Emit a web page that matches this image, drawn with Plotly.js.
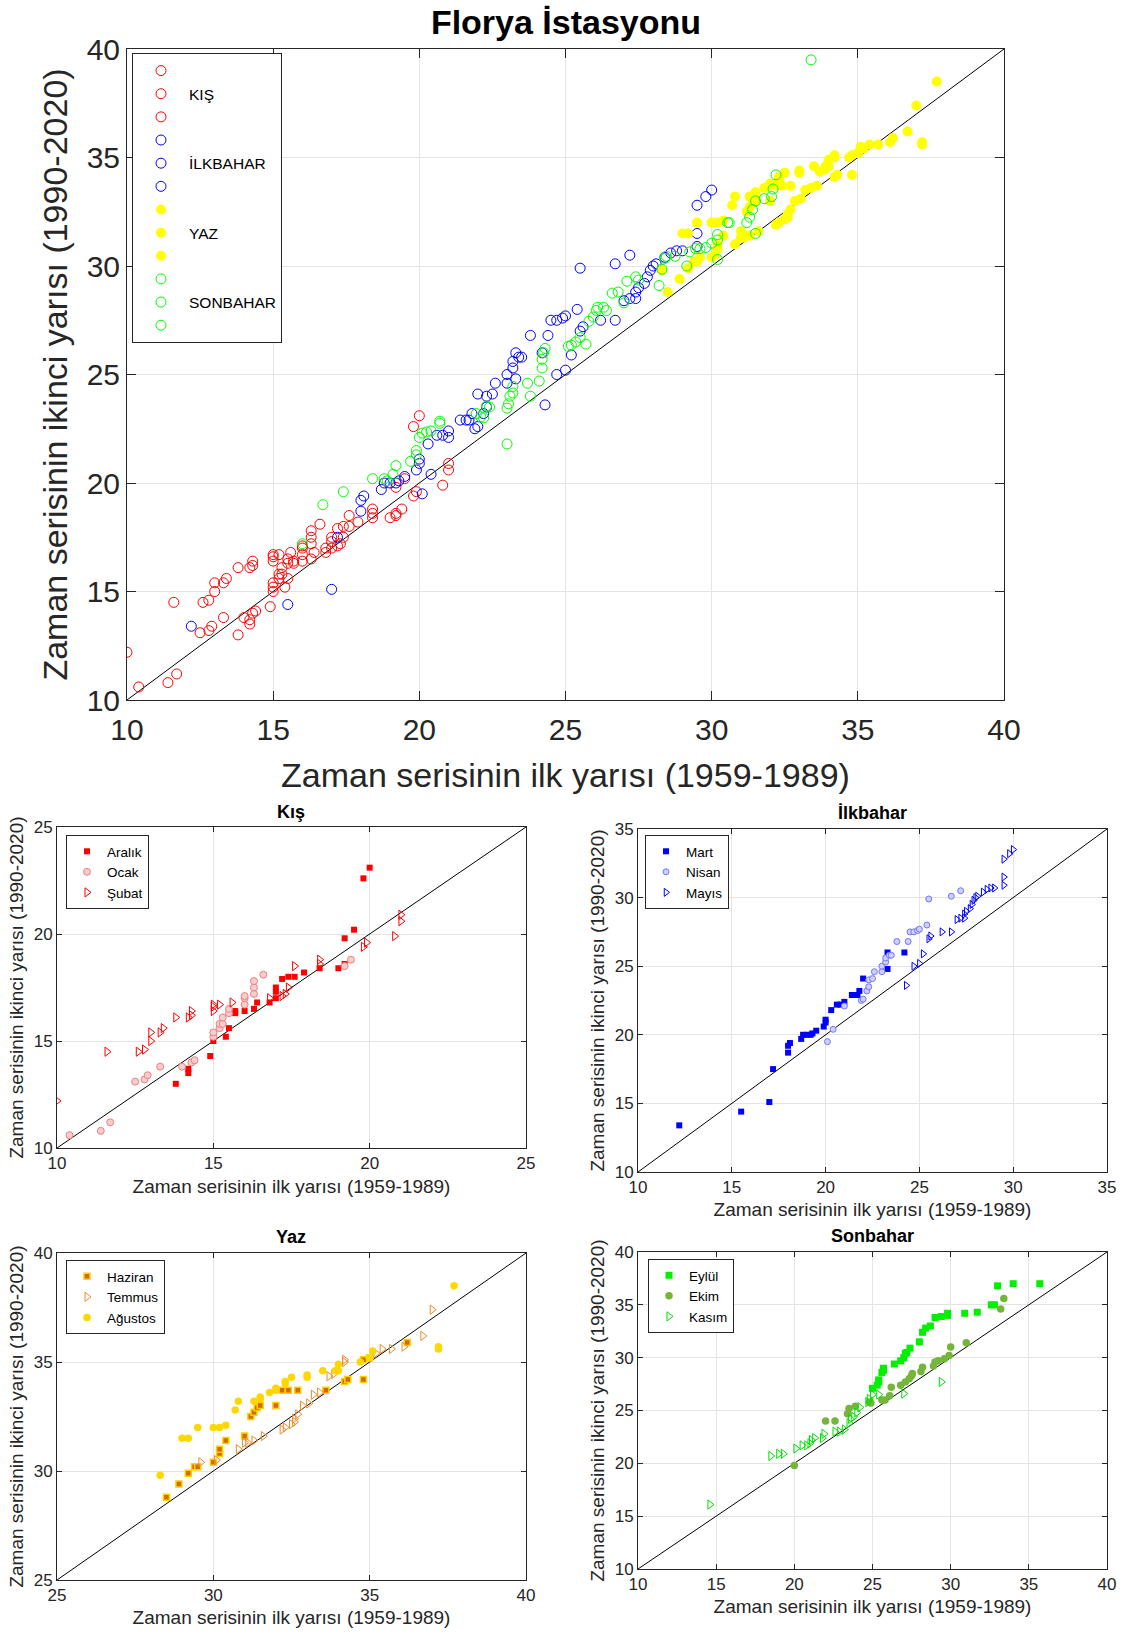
<!DOCTYPE html>
<html>
<head>
<meta charset="utf-8">
<script src="https://cdn.plot.ly/plotly-3.0.1.min.js"></script>
<style>html,body{margin:0;padding:0;background:#fff;}#chart{width:1127px;height:1634px;}</style>
</head>
<body>
<div id="chart"></div>
<script>
// ---- Kış ----
const aralikX = [13.8,14.2,14.2,14.9,15.0,15.4,15.5,15.7,15.7,16.0,16.3,16.4,16.8,17.0,17.0,17.0,17.2,17.4,17.6,17.9,18.4,19.0,19.2,19.2,19.5,19.8,20.0];
const aralikY = [13.0,13.5,13.7,14.3,15.0,15.2,15.6,16.3,16.4,16.4,16.5,16.8,16.8,17.0,17.3,17.5,17.9,18.0,18.0,18.2,18.4,18.4,18.6,19.8,20.2,22.6,23.1];
const ocakX = [10.4,11.4,11.7,12.5,12.8,12.9,13.3,14.0,14.3,14.4,15.0,15.0,15.2,15.2,15.3,15.3,15.5,15.5,16.0,16.0,16.0,16.3,16.3,16.3,16.6,19.2,19.4];
const ocakY = [10.6,10.8,11.2,13.1,13.2,13.4,13.8,13.8,14.0,14.1,15.2,15.4,15.6,15.8,15.8,16.1,16.3,16.5,16.7,17.0,17.1,17.2,17.5,17.8,18.1,18.5,18.8];
const subatX = [10.0,11.6,12.6,12.8,13.0,13.0,13.3,13.4,13.8,14.2,14.3,14.3,15.0,15.0,15.0,15.2,15.6,16.8,17.2,17.3,17.4,17.6,18.4,18.4,19.8,19.9,20.8,21.0,21.0];
const subatY = [12.2,14.5,14.5,14.6,15.0,15.4,15.4,15.6,16.1,16.1,16.2,16.4,16.4,16.6,16.7,16.7,16.8,17.0,17.1,17.2,17.5,18.5,18.6,18.8,19.4,19.6,19.9,20.6,20.9];
// ---- İlkbahar ----
const martX = [12.2,15.5,17.0,17.2,18.0,18.0,18.1,18.7,18.8,19.0,19.2,19.3,19.5,19.9,20.0,20.0,20.3,20.6,20.8,21.0,21.4,21.6,21.7,21.8,22.0,23.3,23.3,24.2];
const martY = [13.4,14.4,15.1,17.5,18.7,19.2,19.4,19.7,20.0,20.0,20.0,20.1,20.3,20.6,20.9,21.1,21.8,22.2,22.2,22.4,22.9,22.9,22.9,23.2,24.1,24.8,26.0,26.0];
const nisanX = [20.1,20.4,21.0,21.9,22.0,22.2,22.3,22.3,22.5,22.6,23.0,23.0,23.2,23.2,23.4,23.5,23.8,24.4,24.5,24.7,24.9,25.0,25.4,25.5,26.7,27.2];
const nisanY = [19.5,20.4,22.1,22.5,22.6,23.2,23.5,24.0,24.1,24.6,24.6,25.0,25.3,25.6,25.8,25.8,26.8,26.8,27.5,27.5,27.6,27.7,28.0,29.9,30.1,30.5];
const mayisX = [24.3,24.7,25.0,25.2,25.5,25.6,26.2,26.7,27.0,27.2,27.4,27.4,27.5,27.7,27.8,27.9,28.0,28.1,28.4,28.6,28.8,29.0,29.5,29.5,29.5,29.8,30.0];
const mayisY = [23.6,25.0,25.2,25.9,27.0,27.2,27.5,27.5,28.4,28.5,28.5,28.8,29.0,29.2,29.5,29.8,30.0,30.1,30.4,30.6,30.7,30.7,30.9,31.5,32.8,33.2,33.5];
// ---- Yaz ----
const haziranX = [28.5,28.9,29.2,29.4,29.5,30.0,30.2,30.2,30.4,31.0,31.2,31.3,31.4,31.5,32.0,32.2,32.4,32.7,33.6,34.2,34.3,34.8,34.8,35.0,36.2];
const haziranY = [28.8,29.4,29.9,30.2,30.2,30.4,30.8,31.0,31.4,31.6,32.5,32.7,32.9,33.0,33.0,33.7,33.7,33.7,33.7,34.1,34.2,34.2,35.1,35.2,35.9];
const temmuzX = [29.6,30.1,30.8,31.0,31.1,31.3,31.6,32.2,32.3,32.5,32.6,32.6,32.7,32.85,33.05,33.2,33.4,33.7,33.85,34.2,34.2,35.2,35.4,35.7,36.1,36.7,37.0];
const temmuzY = [30.4,30.5,31.0,31.3,31.3,31.4,31.6,31.9,32.0,32.15,32.25,32.4,32.6,33.0,33.1,33.5,33.6,34.35,34.45,35.0,35.1,35.4,35.6,35.6,35.7,36.2,37.4];
const agustosX = [28.3,29.0,29.2,29.5,30.0,30.2,30.4,30.7,30.8,31.3,31.5,31.5,31.8,32.0,32.0,32.3,32.3,32.5,33.0,33.0,33.5,33.9,34.0,34.0,34.7,35.0,35.1,37.2,37.2,37.7];
const agustosY = [29.8,31.5,31.5,32.0,32.0,32.0,32.1,32.8,33.2,33.2,33.3,33.4,33.6,33.7,33.8,34.0,34.1,34.3,34.3,34.4,34.6,34.6,34.6,34.9,35.0,35.2,35.5,35.6,35.7,38.5];
// ---- Sonbahar ----
const eylulX = [25.0,25.3,25.4,25.4,25.6,25.7,25.7,26.4,26.8,27.0,27.1,27.2,27.4,28.0,28.2,28.4,28.7,29.0,29.4,29.8,29.8,30.9,31.7,32.6,32.8,33.0,34.0,35.7];
const eylulY = [27.1,27.4,27.7,27.9,28.6,28.8,29.0,29.4,29.7,30.0,30.4,30.5,30.9,31.5,32.4,32.8,33.0,33.8,33.9,34.0,34.2,34.2,34.3,35.0,35.0,36.8,37.0,37.0];
const ekimX = [20.0,22.0,22.6,23.4,23.5,23.9,24.8,24.9,25.6,25.8,26.1,26.2,26.8,27.1,27.35,27.5,27.55,28.1,28.2,28.9,29.0,29.2,29.6,29.9,30.0,31.0,33.2,33.4];
const ekimY = [19.8,24.0,24.0,24.7,25.2,25.4,25.8,25.7,26.0,26.0,26.4,27.2,27.4,27.7,28.0,28.3,28.5,28.7,29.1,29.2,29.6,29.7,29.9,30.2,31.0,31.4,34.6,35.6];
const kasimX = [14.6,18.5,19.0,19.3,20.1,20.5,20.8,21.0,21.1,21.3,21.8,21.9,22.6,22.9,23.2,23.5,23.6,23.8,24.0,24.2,24.7,24.8,25.0,25.4,27.0,29.4];
const kasimY = [16.1,20.7,20.9,20.9,21.4,21.7,21.7,21.9,22.2,22.4,22.4,22.8,23.0,23.0,23.2,23.8,24.2,24.4,24.8,25.3,25.8,26.1,26.5,26.5,26.6,27.7];
// ---- Main chart, SONBAHAR series as drawn in the upper panel ----
const anaSonbaharX = [16.0,16.7,17.4,18.4,18.8,18.9,19.1,19.2,19.7,19.9,19.9,20.0,20.1,20.25,20.4,20.7,20.7,21.95,22.1,22.3,22.2,22.4,23.0,23.0,23.05,23.1,23.2,23.2,23.7,23.8,24.1,24.2,24.2,24.25,24.3,25.1,25.2,25.35,25.5,25.7,25.8,25.95,26.05,26.1,26.3,26.4,26.6,26.8,27.0,27.1,27.4,27.5,28.2,28.3,28.4,28.45,28.75,29.15,29.25,29.45,29.6,29.8,30.0,30.2,30.2,30.2,30.55,30.6,31.2,31.3,31.4,31.5,31.5,31.8,32.05,32.1,32.2,33.4];
const anaSonbaharY = [17.2,19.0,19.6,20.2,20.2,20.1,20.4,20.8,21.0,21.3,21.5,22.1,22.3,22.35,22.4,22.75,22.85,23.2,23.05,23.55,23.0,23.5,21.8,23.45,23.65,24.0,24.15,24.45,24.6,24.0,24.7,25.3,25.7,26.0,26.2,26.3,26.35,26.5,26.7,26.4,27.45,27.65,27.95,28.1,28.1,27.95,28.75,28.8,28.3,29.3,29.5,29.35,29.1,29.85,30.35,30.45,30.45,30.0,30.65,30.8,30.8,30.85,31.05,30.3,31.2,31.45,32.0,32.0,32.0,32.25,32.6,33.0,31.5,33.1,33.2,33.55,34.2,39.5];

// axis ranges (also used for the 1:1 line)
const mainRange = [10, 40];
const kisRange = [10, 25];
const ilkRange = [10, 35];
const yazRange = [25, 40];
const sonRange = [10, 40];

const FONT = 'Liberation Sans, Arial, Helvetica, sans-serif';
const INK = '#262626';
const W = 1127, H = 1634;
const px = v => v / W;
const py = v => 1 - v / H;

const traces = [];
function diag(rng, xa, ya) {
  traces.push({x: rng, y: rng, xaxis: xa, yaxis: ya, mode: 'lines', line: {color: '#000', width: 1}, showlegend: false, hoverinfo: 'skip'});
}
function pts(x, y, xa, ya, name, marker, legend, show) {
  traces.push({x: x, y: y, xaxis: xa, yaxis: ya, mode: 'markers', type: 'scatter', name: name, marker: marker, legend: legend, showlegend: show !== false});
}

// main chart
diag(mainRange, 'x', 'y');
const mRed = {symbol: 'circle-open', size: 10, color: '#ff0000', line: {width: 1, color: '#ff0000'}};
const mBlue = {symbol: 'circle-open', size: 10, color: '#0000ff', line: {width: 1, color: '#0000ff'}};
const mYel = {symbol: 'circle', size: 10, color: '#ffff00', line: {width: 0}};
const mGrn = {symbol: 'circle-open', size: 10, color: '#00ff00', line: {width: 1, color: '#00ff00'}};
pts(aralikX, aralikY, 'x', 'y', ' ', mRed, 'legend');
pts(ocakX, ocakY, 'x', 'y', 'KIŞ', mRed, 'legend');
pts(subatX, subatY, 'x', 'y', '  ', mRed, 'legend');
pts(martX, martY, 'x', 'y', '   ', mBlue, 'legend');
pts(nisanX, nisanY, 'x', 'y', 'İLKBAHAR', mBlue, 'legend');
pts(mayisX, mayisY, 'x', 'y', '    ', mBlue, 'legend');
pts(haziranX, haziranY, 'x', 'y', '     ', mYel, 'legend');
pts(temmuzX, temmuzY, 'x', 'y', 'YAZ', mYel, 'legend');
pts(agustosX, agustosY, 'x', 'y', '      ', mYel, 'legend');
pts([null], [null], 'x', 'y', '       ', mGrn, 'legend');
pts(anaSonbaharX, anaSonbaharY, 'x', 'y', 'SONBAHAR', mGrn, 'legend');
pts([null], [null], 'x', 'y', '        ', mGrn, 'legend');

// Kış
diag(kisRange, 'x2', 'y2');
pts(aralikX, aralikY, 'x2', 'y2', 'Aralık', {symbol: 'square', size: 6, color: '#ff0000', line: {width: 0}}, 'legend2');
pts(ocakX, ocakY, 'x2', 'y2', 'Ocak', {symbol: 'circle', size: 7, color: '#f9cdcd', line: {width: 1, color: '#ee8080'}}, 'legend2');
pts(subatX, subatY, 'x2', 'y2', 'Şubat', {symbol: 'triangle-right-open', size: 8, color: '#ff0000', line: {width: 1, color: '#ff0000'}}, 'legend2');
// İlkbahar
diag(ilkRange, 'x3', 'y3');
pts(martX, martY, 'x3', 'y3', 'Mart', {symbol: 'square', size: 6, color: '#0000ff', line: {width: 0}}, 'legend3');
pts(nisanX, nisanY, 'x3', 'y3', 'Nisan', {symbol: 'circle', size: 6, color: '#cdd0ff', line: {width: 1, color: '#7276ff'}}, 'legend3');
pts(mayisX, mayisY, 'x3', 'y3', 'Mayıs', {symbol: 'triangle-right-open', size: 7, color: '#0000ff', line: {width: 1, color: '#0000ff'}}, 'legend3');
// Yaz
diag(yazRange, 'x4', 'y4');
pts(haziranX, haziranY, 'x4', 'y4', 'Haziran', {symbol: 'square', size: 6, color: '#d26a00', line: {width: 1.5, color: '#ffd000'}}, 'legend4');
pts(temmuzX, temmuzY, 'x4', 'y4', 'Temmus', {symbol: 'triangle-right-open', size: 8, color: '#ee8a2a', line: {width: 1, color: '#ee8a2a'}}, 'legend4');
pts(agustosX, agustosY, 'x4', 'y4', 'Ağustos', {symbol: 'circle', size: 7.5, color: '#ffd700', line: {width: 0}}, 'legend4');
// Sonbahar
diag(sonRange, 'x5', 'y5');
pts(eylulX, eylulY, 'x5', 'y5', 'Eylül', {symbol: 'square', size: 7, color: '#00f000', line: {width: 0}}, 'legend5');
pts(ekimX, ekimY, 'x5', 'y5', 'Ekim', {symbol: 'circle', size: 7.5, color: '#74b63a', line: {width: 0}}, 'legend5');
pts(kasimX, kasimY, 'x5', 'y5', 'Kasım', {symbol: 'triangle-right-open', size: 8, color: '#00e000', line: {width: 1, color: '#00e000'}}, 'legend5');

function axis(domain, rng, anchor, title, tf, tkf, ticklen, standoff, lblOff) {
  return {
    domain: domain, range: rng, anchor: anchor, autorange: false,
    tickmode: 'linear', tick0: 0, dtick: 5,
    ticks: 'inside', ticklen: ticklen, tickwidth: 1, tickcolor: INK,
    showline: true, mirror: 'ticks', linecolor: INK, linewidth: 1,
    showgrid: true, gridcolor: '#e4e4e4', gridwidth: 1, zeroline: false,
    ticklabelstandoff: lblOff || 0,
    tickfont: {family: FONT, size: tkf, color: INK},
    title: {text: title, font: {family: FONT, size: tf, color: INK}, standoff: standoff}
  };
}
const XT = 'Zaman serisinin ilk yarısı (1959-1989)';
const YT = 'Zaman serisinin ikinci yarısı (1990-2020)';

function leg(x, y, size, itemwidth) {
  return {x: x, y: y, xanchor: 'left', yanchor: 'top', xref: 'paper', yref: 'paper',
    bgcolor: '#ffffff', bordercolor: INK, borderwidth: 1, traceorder: 'normal',
    font: {family: FONT, size: size, color: '#000'}, itemwidth: itemwidth, tracegroupgap: 0};
}

function ttl(text, x, y) {
  return {text: '<b>' + text + '</b>', x: px(x), y: py(y), xref: 'paper', yref: 'paper', xanchor: 'center', yanchor: 'middle', showarrow: false, font: {family: FONT, size: 18, color: '#000'}};
}

const layout = {
  width: W, height: H,
  margin: {l: 0, r: 0, t: 0, b: 0},
  paper_bgcolor: '#ffffff', plot_bgcolor: '#ffffff',
  font: {family: FONT, color: INK},
  title: {text: '<b>Florya İstasyonu</b>', font: {family: FONT, size: 34, color: '#000'}, x: px(566), xref: 'paper', xanchor: 'center', y: py(22), yref: 'paper', yanchor: 'middle'},
  xaxis: axis([px(127), px(1004)], mainRange, 'y', XT, 34, 30, 9, 18, 3),
  yaxis: axis([py(700), py(49)], mainRange, 'x', YT, 34, 30, 9, 8, 0),
  xaxis2: axis([px(57), px(526)], kisRange, 'y2', XT, 19, 17, 5, 7, 0),
  yaxis2: axis([py(1148), py(827)], kisRange, 'x2', YT, 19, 17, 5, 5, 0),
  xaxis3: axis([px(638), px(1107)], ilkRange, 'y3', XT, 19, 17, 5, 6, 0),
  yaxis3: axis([py(1172), py(829)], ilkRange, 'x3', YT, 19, 17, 5, 5, 0),
  xaxis4: axis([px(57), px(526)], yazRange, 'y4', XT, 19, 17, 5, 6, 0),
  yaxis4: axis([py(1580), py(1253)], yazRange, 'x4', YT, 19, 17, 5, 5, 0),
  xaxis5: axis([px(638), px(1107)], sonRange, 'y5', XT, 19, 17, 5, 6, 0),
  yaxis5: axis([py(1569), py(1252)], sonRange, 'x5', YT, 19, 17, 5, 5, 0),
  legend: leg(px(132), py(53), 15.5, 46),
  legend2: leg(px(66), py(835), 13.5, 30),
  legend3: leg(px(645), py(835), 13.5, 30),
  legend4: leg(px(66), py(1260), 13.5, 30),
  legend5: leg(px(648), py(1259), 13.5, 30),
  annotations: [
    ttl('Kış', 291, 812),
    ttl('İlkbahar', 872, 813),
    ttl('Yaz', 291, 1237),
    ttl('Sonbahar', 872, 1236)
  ]
};

Plotly.newPlot('chart', traces, layout, {displayModeBar: false, staticPlot: true});
</script>
</body>
</html>
